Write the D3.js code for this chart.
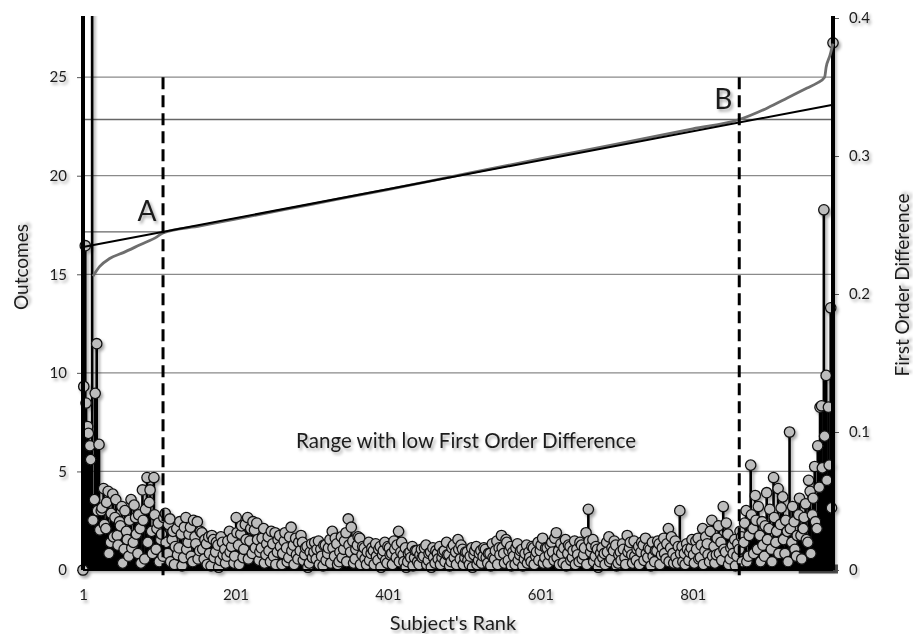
<!DOCTYPE html>
<html>
<head>
<meta charset="utf-8">
<script src="https://cdn.jsdelivr.net/npm/d3@7"></script>
<style>
body { margin: 0; background: #fff; }
svg text { font-family: Lato, "Open Sans", sans-serif; fill: #1c1c1c; }
</style>
</head>
<body>
<div id="chart"></div>
<script>
// chart data
// first order difference. main series: ranks 1, 4, 7 ... ; fill series: ranks 2, 5, 8 ...
var rankStep = 3;
var mainStart = 1, fillStart = 2;
var fodLeft = [0, 0.235, 0.104, 0.09, 0.45, 0.051, 0.164, 0.091,
	0.043, 0.059, 0.03, 0.057, 0.02, 0.055, 0.038, 0.025, 0.035, 0.046, 0.015, 0.028, 0.01, 0.051,
	0.02, 0.038, 0.012, 0.03, 0.058, 0.008, 0.067, 0.049, 0.028, 0.067, 0.015, 0.034, 0.022, 0.01];
var fodMidA = [0.041, 0.012, 0.037, 0.022, 0.004, 0.03, 0.016, 0.026, 0.009, 0.038, 0.02, 0.031, 0.006, 0.024, 0.035, 0.014,
	0.027, 0.008, 0.019, 0.024, 0.003, 0.022, 0.013, 0.018, 0.007, 0.02, 0.015, 0.01, 0.028, 0.017, 0.005,
	0.038, 0.018, 0.026, 0.009, 0.033, 0.038, 0.021, 0.012, 0.029, 0.034, 0.007,
	0.016, 0.03, 0.011, 0.024, 0.006, 0.019, 0.027, 0.013, 0.025, 0.004, 0.021, 0.016, 0.009, 0.031, 0.018, 0.023, 0.008, 0.014,
	0.02, 0.011, 0.017, 0.005, 0.019, 0.013, 0.008, 0.021, 0.015, 0.003, 0.018, 0.012, 0.022];
var fodMidB = [0.028, 0.01, 0.019, 0.006, 0.024, 0.015, 0.027, 0.037, 0.013, 0.021, 0.008, 0.018, 0.023, 0.011, 0.016, 0.004, 0.02, 0.012,
	0.014, 0.019, 0.007, 0.017, 0.011, 0.02, 0.005, 0.016, 0.012, 0.021, 0.009, 0.028, 0.013,
	0.011, 0.016, 0.006, 0.013, 0.017, 0.009, 0.014, 0.004, 0.015, 0.01, 0.018, 0.007, 0.013, 0.016, 0.005, 0.012, 0.017, 0.009, 0.014, 0.02, 0.011, 0.006, 0.018, 0.013, 0.022, 0.008,
	0.015, 0.009, 0.013, 0.004, 0.016, 0.011, 0.017, 0.007, 0.014, 0.01, 0.015, 0.005, 0.012, 0.019, 0.008, 0.021, 0.016];
var fodMidC = [0.025, 0.012, 0.022, 0.007, 0.017, 0.013, 0.004, 0.019, 0.011, 0.015, 0.008, 0.018, 0.013, 0.006, 0.016, 0.01, 0.02, 0.014, 0.023, 0.009,
	0.016, 0.011, 0.02, 0.007, 0.027, 0.014, 0.019, 0.005, 0.022, 0.012, 0.017, 0.009, 0.021, 0.015, 0.006, 0.018, 0.011, 0.027, 0.044, 0.013,
	0.022, 0.01, 0.015, 0.006, 0.016, 0.012, 0.02, 0.024, 0.008, 0.014, 0.018, 0.005, 0.013, 0.019, 0.009, 0.025, 0.016, 0.011, 0.021, 0.007, 0.017, 0.013,
	0.018, 0.023, 0.009, 0.015, 0.02, 0.006, 0.014, 0.019, 0.011, 0.023, 0.008, 0.03, 0.016, 0.012, 0.021, 0.005, 0.043, 0.017,
	0.012, 0.019, 0.007, 0.016, 0.011, 0.021, 0.023, 0.009, 0.03, 0.014, 0.019, 0.006, 0.036, 0.017, 0.011, 0.032, 0.02, 0.046, 0.013, 0.026, 0.008, 0.018, 0.022, 0.01, 0.015, 0.024];
var fodRight = [0.02, 0.043, 0.01, 0.076, 0.03, 0.054, 0.015, 0.025, 0.035, 0.01, 0.056, 0.03, 0.015, 0.067, 0.02, 0.059, 0.033, 0.053, 0.012, 0.028,
	0.1, 0.02, 0.035, 0.01, 0.04, 0.025, 0.03, 0.048, 0.02, 0.057, 0.04, 0.075, 0.03, 0.06, 0.119, 0.261, 0.141, 0.118, 0.19, 0.382];

var fillLeft = [0.133, 0.121, 0.099, 0.08, 0.036, 0.128, 0.043, 0.029,
	0.045, 0.033, 0.049, 0.012, 0.041, 0.024, 0.051, 0.018, 0.032, 0.005, 0.043, 0.022, 0.036, 0.016, 0.047, 0.026, 0.04, 0.005, 0.036, 0.044,
	0.02, 0.058, 0.012, 0.04, 0.03, 0.006, 0.026, 0.038];
var fillMidA = [0.02, 0.033, 0.006, 0.028, 0.017, 0.011, 0.035, 0.003, 0.031, 0.015, 0.026, 0.01, 0.036, 0.019, 0.008, 0.028,
	0.015, 0.022, 0.004, 0.012, 0.025, 0.009, 0.02, 0.002, 0.024, 0.011, 0.005, 0.021, 0.013, 0.023, 0.01,
	0.027, 0.004, 0.032, 0.015, 0.022, 0.008, 0.03, 0.035, 0.016, 0.022, 0.013,
	0.023, 0.005, 0.019, 0.014, 0.028, 0.01, 0.004, 0.022, 0.017, 0.012, 0.027, 0.006, 0.024, 0.014, 0.004, 0.011, 0.02, 0.025,
	0.007, 0.016, 0.002, 0.013, 0.009, 0.02, 0.015, 0.004, 0.01, 0.018, 0.007, 0.016, 0.005];
var fillMidB = [0.016, 0.023, 0.004, 0.013, 0.009, 0.021, 0.006, 0.018, 0.031, 0.005, 0.015, 0.024, 0.004, 0.017, 0.008, 0.013, 0.007, 0.016,
	0.004, 0.01, 0.015, 0.002, 0.014, 0.007, 0.017, 0.011, 0.004, 0.015, 0.018, 0.006, 0.02,
	0.006, 0.002, 0.012, 0.009, 0.003, 0.014, 0.006, 0.011, 0.009, 0.016, 0.004, 0.012, 0.002, 0.009, 0.014, 0.008, 0.004, 0.013, 0.006, 0.011, 0.003, 0.016, 0.009, 0.004, 0.015, 0.018,
	0.004, 0.013, 0.007, 0.01, 0.002, 0.014, 0.004, 0.012, 0.005, 0.016, 0.009, 0.012, 0.003, 0.009, 0.014, 0.004, 0.011];
var fillMidC = [0.016, 0.005, 0.02, 0.014, 0.003, 0.01, 0.016, 0.007, 0.014, 0.003, 0.012, 0.005, 0.009, 0.017, 0.004, 0.013, 0.007, 0.018, 0.005, 0.016,
	0.005, 0.018, 0.013, 0.023, 0.009, 0.004, 0.012, 0.016, 0.003, 0.018, 0.007, 0.014, 0.004, 0.011, 0.02, 0.008, 0.016, 0.004, 0.021, 0.017,
	0.006, 0.017, 0.002, 0.012, 0.009, 0.004, 0.013, 0.006, 0.016, 0.021, 0.003, 0.011, 0.007, 0.015, 0.004, 0.013, 0.02, 0.005, 0.01, 0.015, 0.004, 0.02,
	0.007, 0.012, 0.016, 0.003, 0.01, 0.014, 0.021, 0.004, 0.016, 0.012, 0.019, 0.006, 0.024, 0.005, 0.009, 0.017, 0.012, 0.006,
	0.004, 0.015, 0.013, 0.022, 0.005, 0.015, 0.008, 0.018, 0.004, 0.024, 0.011, 0.028, 0.01, 0.005, 0.023, 0.012, 0.007, 0.015, 0.034, 0.004, 0.016, 0.012, 0.003, 0.019, 0.028, 0.006];
var fillRight = [0.034, 0.006, 0.025, 0.04, 0.012, 0.036, 0.046, 0.006, 0.018, 0.032, 0.022, 0.044, 0.006, 0.038, 0.028, 0.012, 0.045, 0.022, 0.036, 0.006,
	0.03, 0.046, 0.015, 0.025, 0.052, 0.008, 0.038, 0.022, 0.065, 0.012, 0.052, 0.035, 0.09, 0.118, 0.074, 0.097, 0.065, 0.076, 0.045];

// sorted outcomes (gray curve)
var outcomeRanks = [14, 23, 36, 54, 76, 98, 106, 155, 201, 301, 401, 501, 601, 701, 801, 862, 899, 925, 951, 964, 974, 976, 981, 985];
var outcomeValues = [14.9, 15.4, 15.8, 16.1, 16.5, 16.9, 17.1, 17.45, 17.8, 18.55, 19.3, 20.08, 20.85, 21.6, 22.38, 22.85, 23.44, 23.94, 24.45, 24.7, 25.0, 25.5, 26.1, 26.7];
// straight fit
var trendRanks = [1, 985];
var trendValues = [16.38, 23.6];
// points A and B
var markLabels = ["A", "B"];
var markRanks = [106, 862];
var markValues = [17.15, 22.85];

var rankTicks = [1, 201, 401, 601, 801];
var outcomeTicks = [0, 5, 10, 15, 20, 25];
var fodTicks = [0, 0.1, 0.2, 0.3, 0.4];

var fodMain = fodLeft.concat(fodMidA, fodMidB, fodMidC, fodRight);
var fodFill = fillLeft.concat(fillMidA, fillMidB, fillMidC, fillRight);
var points = fodMain.map(function(v, i){ return {rank: mainStart + i * rankStep, value: v}; })
	.concat(fodFill.map(function(v, i){ return {rank: fillStart + i * rankStep, value: v}; }))
	.sort(function(a, b){ return a.rank - b.rank; });

var width = 913,
	height = 634,
	plotL = 83, plotR = 833, plotT = 18, plotB = 570;

var svg = d3.select("#chart").append("svg")
	.attr("width", width)
	.attr("height", height);

var defs = svg.append("defs");
defs.append("filter").attr("id", "shadow")
	.attr("x", "-20%").attr("y", "-20%").attr("width", "140%").attr("height", "140%")
	.append("feDropShadow")
		.attr("dx", 2).attr("dy", 2.5).attr("stdDeviation", 1.4)
		.attr("flood-color", "#000").attr("flood-opacity", 0.35);
defs.append("clipPath").attr("id", "plot")
	.append("rect").attr("x", plotL - 10).attr("y", 16).attr("width", plotR - plotL + 20).attr("height", plotB - 16 + 10);
defs.append("marker").attr("id", "head")
	.attr("viewBox", "0 0 10 10").attr("refX", 9).attr("refY", 5)
	.attr("markerWidth", 5).attr("markerHeight", 5).attr("markerUnits", "strokeWidth")
	.attr("orient", "auto-start-reverse")
	.append("path").attr("d", "M1,1 L9,5 L1,9").attr("fill", "none").attr("stroke", "#000").attr("stroke-width", 1.6);

var x = d3.scaleLinear().domain([1, 985]).range([plotL, plotR]);
var yL = d3.scaleLinear().domain([0, 28]).range([plotB, plotT]);
var yR = d3.scaleLinear().domain([0, 0.4]).range([plotB, plotT]);

//gridlines
svg.append("g").selectAll("line")
	.data(outcomeTicks.filter(function(d){ return d > 0; }))
	.enter().append("line")
		.attr("x1", plotL).attr("x2", plotR)
		.attr("y1", function(d){ return yL(d); })
		.attr("y2", function(d){ return yL(d); })
		.attr("stroke", "#8a8a8a").attr("stroke-width", 1.2);

//reference levels of A and B
svg.append("g").selectAll("line")
	.data(markValues)
	.enter().append("line")
		.attr("x1", plotL).attr("x2", function(d, i){ return i == 0 ? x(markRanks[0]) : plotR; })
		.attr("y1", function(d){ return yL(d); })
		.attr("y2", function(d){ return yL(d); })
		.attr("stroke", "#666").attr("stroke-width", 1.4);

//axes
var axL = svg.append("g").attr("transform", "translate(" + plotL + ",0)")
	.call(d3.axisLeft(yL).tickValues(outcomeTicks).tickSize(6).tickSizeOuter(0).tickPadding(10));
var axR = svg.append("g").attr("transform", "translate(" + plotR + ",0)")
	.call(d3.axisRight(yR).tickValues(fodTicks).tickSize(6).tickSizeOuter(0).tickPadding(10)
		.tickFormat(function(d){ return d == 0 ? "0" : d3.format(".1f")(d); }));
var axB = svg.append("g").attr("transform", "translate(0," + plotB + ")")
	.call(d3.axisBottom(x).tickValues(rankTicks).tickSize(0).tickSizeOuter(0).tickPadding(19).tickFormat(d3.format("d")));
[axL, axR, axB].forEach(function(a){
	a.selectAll("text").style("font-size", "15px").attr("filter", "url(#shadow)");
	a.selectAll(".tick line").attr("stroke", "#555");
	a.select(".domain").remove();
});

svg.append("line").attr("x1", x(940)).attr("x2", plotR + 5)
	.attr("y1", plotB - 1).attr("y2", plotB - 1)
	.attr("stroke", "#555").attr("stroke-width", 9);

//stems and dots
var stems = svg.append("g").attr("clip-path", "url(#plot)").attr("filter", "url(#shadow)");
stems.selectAll("line")
	.data(points)
	.enter().append("line")
		.attr("x1", function(d){ return x(d.rank); })
		.attr("x2", function(d){ return x(d.rank); })
		.attr("y1", plotB)
		.attr("y2", function(d){ return yR(d.value); })
		.attr("stroke", "#000").attr("stroke-width", 2.6);
stems.selectAll("circle")
	.data(points)
	.enter().append("circle")
		.attr("cx", function(d){ return x(d.rank); })
		.attr("cy", function(d){ return yR(d.value); })
		.attr("r", 5.2)
		.attr("fill", "#bdbdbd")
		.attr("stroke", "#111").attr("stroke-width", 1.3);

//axis lines
svg.append("g").selectAll("line")
	.data([plotL, plotR])
	.enter().append("line")
		.attr("x1", function(d){ return d; }).attr("x2", function(d){ return d; })
		.attr("y1", 16).attr("y2", plotB)
		.attr("stroke", "#000").attr("stroke-width", 4);
svg.append("line").attr("x1", plotL).attr("x2", plotR)
	.attr("y1", plotB).attr("y2", plotB)
	.attr("stroke", "#000").attr("stroke-width", 2);

//outcome curve and fit
var outLine = d3.line()
	.x(function(d){ return x(d[0]); })
	.y(function(d){ return yL(d[1]); })
	.curve(d3.curveMonotoneX);
svg.append("path")
	.datum(d3.zip(outcomeRanks, outcomeValues))
	.attr("d", outLine)
	.attr("fill", "none").attr("stroke", "#6e6e6e").attr("stroke-width", 2.8);
svg.append("path")
	.datum(d3.zip(trendRanks, trendValues))
	.attr("d", d3.line().x(function(d){ return x(d[0]); }).y(function(d){ return yL(d[1]); }))
	.attr("fill", "none").attr("stroke", "#000").attr("stroke-width", 2);

//dashed verticals, arrow, labels
svg.append("g").selectAll("line")
	.data(markRanks)
	.enter().append("line")
		.attr("x1", function(d){ return x(d); }).attr("x2", function(d){ return x(d); })
		.attr("y1", yL(25)).attr("y2", plotB + 10)
		.attr("stroke", "#000").attr("stroke-width", 3)
		.attr("stroke-dasharray", "12,6");

svg.append("line")
	.attr("x1", x(markRanks[0]) + 2).attr("x2", x(markRanks[1]) - 2)
	.attr("y1", yL(5) - 2).attr("y2", yL(5) - 2)
	.attr("stroke", "#000").attr("stroke-width", 3)
	.attr("marker-start", "url(#head)").attr("marker-end", "url(#head)")
	.attr("filter", "url(#shadow)");

svg.append("text")
	.attr("x", (x(markRanks[0]) + x(markRanks[1])) / 2 + 15).attr("y", 448)
	.attr("text-anchor", "middle")
	.style("font-size", "20.5px")
	.attr("filter", "url(#shadow)")
	.text("Range with low First Order Difference");

svg.append("g").selectAll("text")
	.data(markLabels)
	.enter().append("text")
		.attr("x", function(d, i){ return x(markRanks[i]) - 16; })
		.attr("y", function(d, i){ return yL(markValues[i]) - 11; })
		.attr("text-anchor", "middle")
		.style("font-size", "28px")
		.attr("filter", "url(#shadow)")
		.text(function(d){ return d; });

//axis titles
svg.append("text").attr("x", 453).attr("y", 630)
	.attr("text-anchor", "middle").style("font-size", "20px")
	.attr("filter", "url(#shadow)").text("Subject's Rank");
svg.append("text").attr("transform", "translate(28,267) rotate(-90)")
	.attr("text-anchor", "middle").style("font-size", "19px")
	.attr("filter", "url(#shadow)").text("Outcomes");
svg.append("text").attr("transform", "translate(909,285) rotate(-90)")
	.attr("text-anchor", "middle").style("font-size", "19px")
	.attr("filter", "url(#shadow)").text("First Order Difference");
</script>
</body>
</html>
